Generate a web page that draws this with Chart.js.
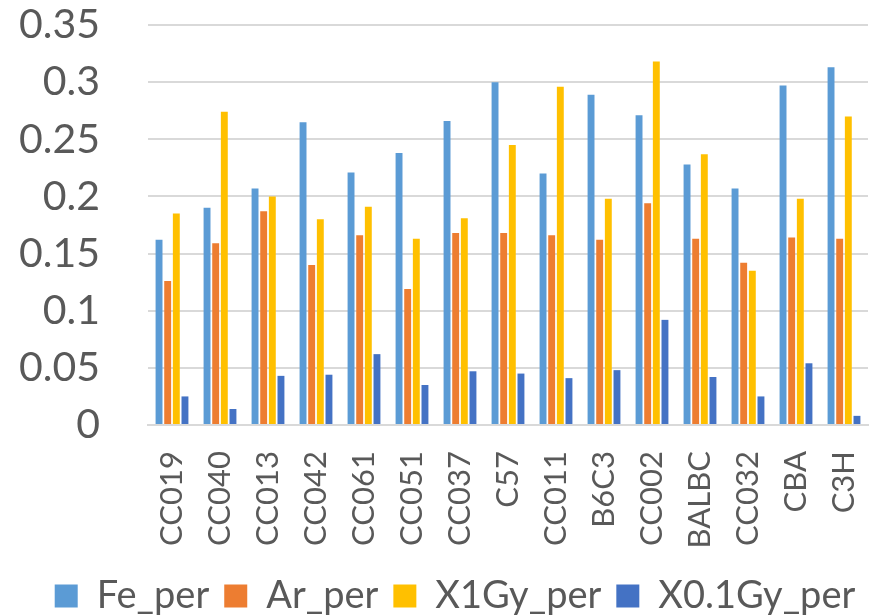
<!DOCTYPE html>
<html>
<head>
<meta charset="utf-8">
<script src="https://cdn.jsdelivr.net/npm/chart.js@4"></script>
<style>
html,body{margin:0;padding:0;background:#fff;}
#wrap{width:877px;height:615px;position:relative;}
</style>
</head>
<body>
<div id="wrap"><canvas id="c" width="877" height="615"></canvas></div>
<script>
const categories = ["CC019","CC040","CC013","CC042","CC061","CC051","CC037","C57","CC011","B6C3","CC002","BALBC","CC032","CBA","C3H"];
const Fe_per    = [0.162,0.190,0.207,0.265,0.221,0.238,0.266,0.300,0.220,0.289,0.271,0.228,0.207,0.297,0.313];
const Ar_per    = [0.126,0.159,0.187,0.140,0.166,0.119,0.168,0.168,0.166,0.162,0.194,0.163,0.142,0.164,0.163];
const X1Gy_per  = [0.185,0.274,0.200,0.180,0.191,0.163,0.181,0.245,0.296,0.198,0.318,0.237,0.135,0.198,0.270];
const X01Gy_per = [0.025,0.014,0.043,0.044,0.062,0.035,0.047,0.045,0.041,0.048,0.092,0.042,0.025,0.054,0.008];
const yTicks = [0,0.05,0.1,0.15,0.2,0.25,0.3,0.35];

const txt = '#595959';
const grid = '#D9D9D9';
const FONT = 'Lato';

const legendShift = {
  id:'legendShift',
  afterLayout(chart){ const l = chart.legend; if(l){ l.left += 21; l.right += 21; } }
};

new Chart(document.getElementById('c'), {
  type: 'bar',
  data: {
    labels: categories,
    datasets: [
      {label:'Fe_per', data:Fe_per, backgroundColor:'#5B9BD5'},
      {label:'Ar_per', data:Ar_per, backgroundColor:'#ED7D31'},
      {label:'X1Gy_per', data:X1Gy_per, backgroundColor:'#FFC000'},
      {label:'X0.1Gy_per', data:X01Gy_per, backgroundColor:'#4472C4'}
    ]
  },
  plugins:[legendShift],
  options: {
    responsive:false,
    animation:false,
    devicePixelRatio:1,
    layout:{padding:{left:0,right:9,top:25,bottom:-10}},
    datasets:{bar:{categoryPercentage:0.72,barPercentage:0.8}},
    plugins:{
      tooltip:{enabled:false},
      legend:{
        position:'bottom',
        labels:{color:txt,font:{family:FONT,size:38},boxWidth:23,boxHeight:23,padding:15}
      }
    },
    scales:{
      x:{
        grid:{display:false,drawTicks:false},
        border:{display:true,color:grid,width:2},
        ticks:{color:txt,font:{family:FONT,size:31},maxRotation:90,minRotation:90,padding:26,autoSkip:false},
        afterFit(s){ s.height = 137; s.paddingLeft = 0; s.paddingRight = 0; }
      },
      y:{
        min:0,max:0.35,
        afterBuildTicks(s){ s.ticks = yTicks.map(v=>({value:v})); },
        grid:{color:grid,lineWidth:2,drawTicks:false},
        border:{display:false},
        ticks:{color:txt,font:{family:FONT,size:41},padding:48,callback:v=>String(+v.toFixed(2))},
        afterFit(s){ s.width = 148; s.paddingTop = 0; s.paddingBottom = 0; }
      }
    }
  }
});
</script>
</body>
</html>
